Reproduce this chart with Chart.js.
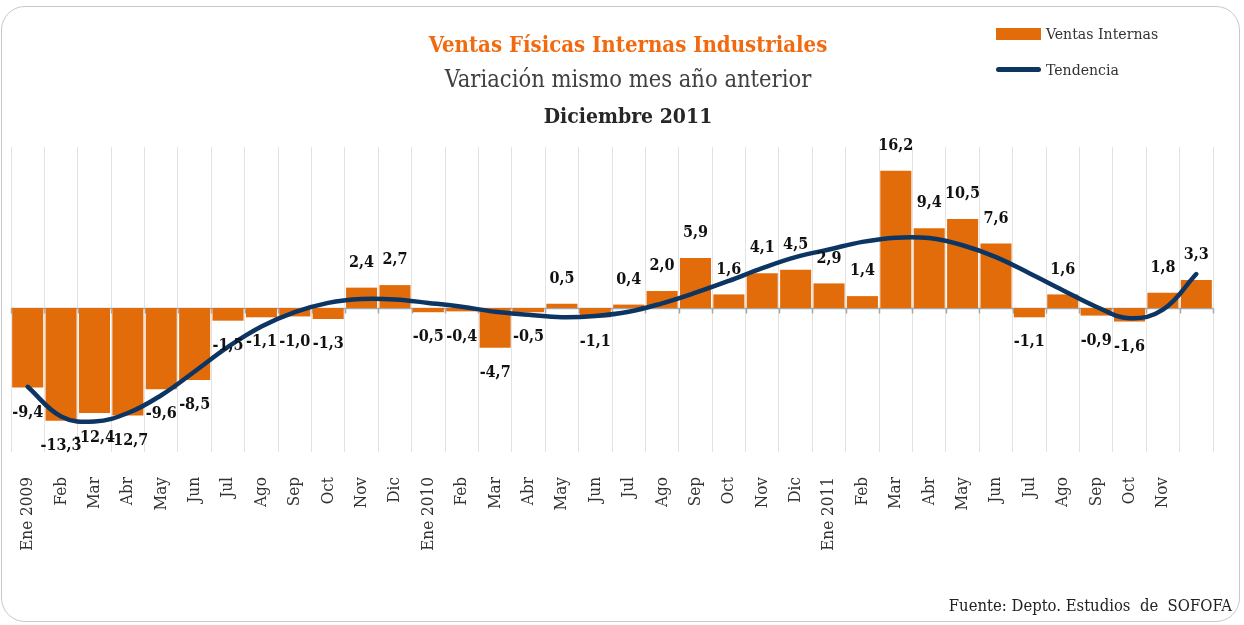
<!DOCTYPE html>
<html>
<head>
<meta charset="utf-8">
<script src="https://cdn.jsdelivr.net/npm/chart.js@4.4.1/dist/chart.umd.min.js"></script>
<style>
  body { margin: 0; background: #fff; }
  #wrap { position: relative; width: 1244px; height: 625px; overflow: hidden;
    font-family: "DejaVu Serif Condensed", "DejaVu Serif", serif; }
  .frame { position: absolute; left: 1px; top: 6px; width: 1237px; height: 614px;
    border: 1.5px solid #c9c9c9; border-radius: 24px; }
  .t { position: absolute; left: 328px; width: 600px; text-align: center; white-space: nowrap; line-height: 30px; }
  #t1 { top: 29px; font-size: 22px; font-weight: bold; color: #f26a10; }
  #t2 { top: 64px; font-size: 23.5px; color: #404040; }
  #t3 { top: 101px; font-size: 21px; font-weight: bold; color: #262626; }
  #legend { position: absolute; left: 996px; top: 22px; font-size: 15.7px; color: #333; }
  #legend .item { position: relative; height: 36px; }
  #legend .sw { position: absolute; left: 0; width: 45px; }
  #legend .lbl { position: absolute; left: 50px; top: 2px; white-space: nowrap; }
  #fuente { position: absolute; right: 12px; top: 596px; font-size: 16.5px; color: #222; white-space: pre; }
  canvas { position: absolute; left: 0; top: 0; }
</style>
</head>
<body>
<div id="wrap">
  <div class="frame"></div>
  <canvas id="chart" width="1244" height="625"></canvas>
  <div class="t" id="t1">Ventas Físicas Internas Industriales</div>
  <div class="t" id="t2">Variación mismo mes año anterior</div>
  <div class="t" id="t3">Diciembre 2011</div>
  <div id="legend"></div>
  <div id="fuente">Fuente: Depto. Estudios  de  SOFOFA</div>
</div>
<script>
// --- Data ---
const months = ['Ene 2009', 'Feb', 'Mar', 'Abr', 'May', 'Jun', 'Jul', 'Ago', 'Sep', 'Oct', 'Nov', 'Dic',
  'Ene 2010', 'Feb', 'Mar', 'Abr', 'May', 'Jun', 'Jul', 'Ago', 'Sep', 'Oct', 'Nov', 'Dic',
  'Ene 2011', 'Feb', 'Mar', 'Abr', 'May', 'Jun', 'Jul', 'Ago', 'Sep', 'Oct', 'Nov', ''];

const ventasInternas = [-9.4, -13.3, -12.4, -12.7, -9.6, -8.5, -1.5, -1.1, -1.0, -1.3, 2.4, 2.7,
  -0.5, -0.4, -4.7, -0.5, 0.5, -1.1, 0.4, 2.0, 5.9, 1.6, 4.1, 4.5,
  2.9, 1.4, 16.2, 9.4, 10.5, 7.6, -1.1, 1.6, -0.9, -1.6, 1.8, 3.3];

// trend
const tendencia = [-9.3, -12.8, -13.4, -12.4, -10.3, -7.5, -4.6, -2.2, -0.5, 0.6, 1.05, 1.0,
  0.6, 0.15, -0.45, -0.8, -1.1, -0.95, -0.45, 0.55, 1.8, 3.2, 4.7, 6.0,
  6.9, 7.8, 8.3, 8.25, 7.4, 6.0, 4.1, 2.1, 0.15, -1.2, -0.2, 4.0];

const ORANGE = '#e36c0a';
const NAVY = '#0c3564';
const FONT = '"DejaVu Serif Condensed", "DejaVu Serif", serif';

// zero line with little ticks + value labels
const decorPlugin = {
  id: 'decor',
  beforeDatasetsDraw(chart) {
    const { ctx, chartArea: a, scales: { y } } = chart;
    const y0 = Math.round(y.getPixelForValue(0)) + 0.5;
    const w = (a.right - a.left) / months.length;
    ctx.save();
    ctx.strokeStyle = '#a6a6a6';
    ctx.lineWidth = 1.5;
    ctx.beginPath();
    ctx.moveTo(a.left, y0);
    ctx.lineTo(a.right, y0);
    for (let i = 0; i <= months.length; i++) {
      const xx = Math.round(a.left + i * w) + 0.5;
      ctx.moveTo(xx, y0);
      ctx.lineTo(xx, y0 + 5);
    }
    ctx.stroke();
    ctx.restore();
  },
  afterDraw(chart) {
    const { ctx } = chart;
    const meta = chart.getDatasetMeta(0);
    ctx.save();
    ctx.font = 'bold 16px ' + FONT;
    ctx.fillStyle = '#111';
    ctx.textAlign = 'center';
    ctx.textBaseline = 'middle';
    meta.data.forEach((bar, i) => {
      const v = ventasInternas[i];
      const txt = v.toFixed(1).replace('.', ',');
      const yy = v >= 0 ? bar.y - 25 : bar.y + 25;
      ctx.fillText(txt, bar.x, yy);
    });
    ctx.restore();
  }
};

const chart = new Chart(document.getElementById('chart'), {
  data: {
    labels: months,
    datasets: [
      {
        type: 'bar',
        label: 'Ventas Internas',
        data: ventasInternas,
        backgroundColor: ORANGE,
        categoryPercentage: 1,
        barPercentage: 0.93,
        order: 1
      },
      {
        type: 'line',
        label: 'Tendencia',
        data: tendencia,
        borderColor: NAVY,
        borderWidth: 4.5,
        borderCapStyle: 'round',
        pointRadius: 0,
        tension: 0.4,
        fill: false,
        order: 0
      }
    ]
  },
  options: {
    responsive: false,
    animation: false,
    layout: { padding: { left: 11, right: 31, top: 147, bottom: 0 } },
    plugins: {
      legend: { display: false },
      tooltip: { enabled: false }
    },
    scales: {
      x: {
        offset: true,
        grid: { color: '#e3e3e3', lineWidth: 1, drawTicks: false, offset: true },
        border: { display: false },
        ticks: {
          autoSkip: false,
          minRotation: 90,
          maxRotation: 90,
          padding: 25,
          color: '#333',
          font: { family: FONT, size: 17 }
        },
        afterFit(s) {
          s.height = 173;
          s.paddingLeft = 0;
          s.paddingRight = 0;
        }
      },
      y: {
        min: -17,
        max: 19,
        grid: { display: false },
        border: { display: false },
        ticks: { display: false },
        afterFit(s) { s.width = 0; }
      }
    }
  },
  plugins: [decorPlugin]
});

// html legend from the datasets
const legendEl = document.getElementById('legend');
chart.data.datasets.forEach(ds => {
  const item = document.createElement('div');
  item.className = 'item';
  const sw = document.createElement('div');
  sw.className = 'sw';
  if (ds.type === 'bar') {
    sw.style.cssText = `top:6px;height:12px;background:${ds.backgroundColor}`;
  } else {
    sw.style.cssText = `top:9px;height:5px;border-radius:3px;background:${ds.borderColor}`;
  }
  const lbl = document.createElement('div');
  lbl.className = 'lbl';
  lbl.textContent = ds.label;
  item.appendChild(sw);
  item.appendChild(lbl);
  legendEl.appendChild(item);
});
</script>
</body>
</html>
